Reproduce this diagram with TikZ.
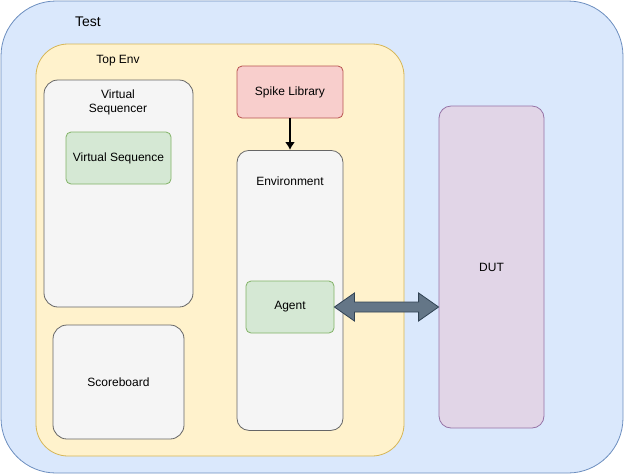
\documentclass[tikz,border=0pt]{standalone}
\usepackage{fontspec}
\setmainfont{Liberation Sans}
\usetikzlibrary{arrows.meta,calc}
\begin{document}
\begin{tikzpicture}[x=1pt,y=-1pt,
  box/.style={draw=#1,line width=0.8pt},
  lbl/.style={font=\fontsize{12}{14}\selectfont,align=center},
  ]
\useasboundingbox (0,0) rectangle (624,475);
\definecolor{tb}{HTML}{DAE8FC}\definecolor{tbs}{HTML}{6C8EBF}
\definecolor{ty}{HTML}{FFF2CC}\definecolor{tys}{HTML}{D6B656}
\definecolor{tg}{HTML}{F5F5F5}\definecolor{tgs}{HTML}{666666}
\definecolor{tgr}{HTML}{D5E8D4}\definecolor{tgrs}{HTML}{82B366}
\definecolor{tr}{HTML}{F8CECC}\definecolor{trs}{HTML}{B85450}
\definecolor{tp}{HTML}{E1D5E7}\definecolor{tps}{HTML}{9673A6}
\definecolor{ta}{HTML}{647687}\definecolor{tas}{HTML}{314354}
\draw[box=tbs,fill=tb,rounded corners=55] (1,1) rectangle (623,473);
\node[lbl,font=\fontsize{14}{16}\selectfont] (test) at (88,22) {Test};
\draw[box=tys,fill=ty,rounded corners=32] (36,44) rectangle (404,456);
\node[lbl] (topenv) at (118,61) {Top Env};
\draw[box=tgs,fill=tg,rounded corners=14] (44,80) rectangle (193,307);
\node[lbl] (vseqr) at (118,102) {Virtual\\Sequencer};
\node[box=tgrs,fill=tgr,rounded corners=5,minimum width=105,minimum height=52,lbl] (vseq) at (118.5,158) {Virtual Sequence};
\node[box=tgs,fill=tg,rounded corners=14,minimum width=131,minimum height=114,lbl,text depth=-14pt] (sb) at (118.5,382) {Scoreboard};
\node[box=trs,fill=tr,rounded corners=5,minimum width=106,minimum height=52,lbl] (spike) at (290,92) {Spike Library};
\node[box=tgs,fill=tg,rounded corners=12,minimum width=106,minimum height=280,anchor=north] (env) at (290,150) {};
\node[lbl] (envl) at (290,181) {Environment};
\node[box=tgrs,fill=tgr,rounded corners=5,minimum width=88,minimum height=52,lbl] (agent) at (290,307) {Agent};
\node[box=tps,fill=tp,rounded corners=12,minimum width=105,minimum height=322,lbl] (dut) at (491.5,267) {DUT};
\coordinate (dutin) at (dut.west |- agent.east);
\draw[line width=2.2pt,-{Latex[length=8pt,width=10pt]}] (spike) -- (env);
\draw[draw=tas,fill=ta,line width=0.8pt]
  (agent.east) -- ++(20,-14) -- ++(0,9) -- ($(dutin)+(-20,-5)$) -- ++(0,-9) -- (dutin)
  -- ++(-20,14) -- ++(0,-9) -- ($(agent.east)+(20,5)$) -- ++(0,9) -- cycle;
\end{tikzpicture}
\end{document}
